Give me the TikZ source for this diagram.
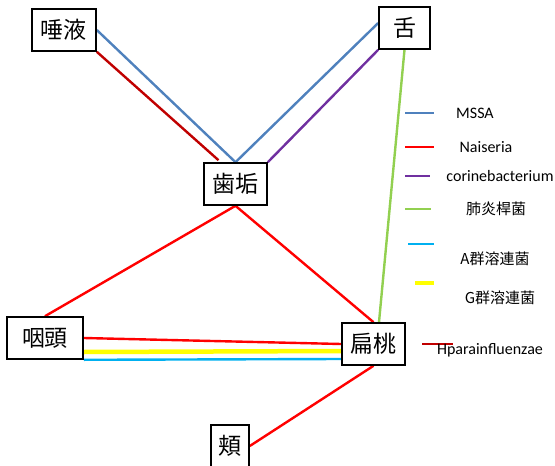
\documentclass[tikz,border=0pt]{standalone}
\usepackage{fontspec}
\setmainfont{Carlito}
\newfontfamily\jp{Noto Sans CJK JP}
\usetikzlibrary{calc}
\definecolor{cblue}{HTML}{4F81BD}
\definecolor{cdred}{HTML}{C00000}
\definecolor{cred}{HTML}{FF0000}
\definecolor{cpurple}{HTML}{7030A0}
\definecolor{cgreen}{HTML}{92D050}
\definecolor{ccyan}{HTML}{00B0F0}
\definecolor{cyellow}{HTML}{FFFF00}
\begin{document}
\begin{tikzpicture}[x=1pt,y=-1pt,
  box/.style={draw=black,line width=1.6pt,fill=white,inner sep=0pt,font=\jp\fontsize{23}{26}\selectfont,anchor=center},
  conn/.style={line width=2.4pt},
  leg/.style={line width=2.8pt},
  legtext/.style={font=\fontsize{16}{18}\selectfont,anchor=center,inner sep=0pt},
  legjp/.style={font=\jp\fontsize{15}{18}\selectfont,anchor=center,inner sep=0pt}]
\useasboundingbox (0,0) rectangle (555,466);
% connector anchor nodes (boxes)
\node[box,minimum width=64pt,minimum height=42pt] (saliva) at (64,30) {唾液};
\node[box,minimum width=51pt,minimum height=42pt] (tongue) at (404.5,28) {舌};
\node[box,minimum width=63pt,minimum height=42pt] (plaque) at (235.5,184) {歯垢};
\node[box,minimum width=76pt,minimum height=42pt] (pharynx) at (45,338) {咽頭};
\node[box,minimum width=63pt,minimum height=42pt] (tonsil) at (373.5,344) {扁桃};
\node[box,minimum width=38pt,minimum height=42pt] (cheek) at (230,446) {頬};
% connector helper coordinates
\coordinate (plaqueL) at ($(plaque.north)+(-17,-2)$);
\coordinate (tongueB) at ($(tongue.west)+(0,-5)$);
\coordinate (tonsilG) at ($(tonsil.north)+(5.5,0)$);
\coordinate (pharY) at ($(pharynx.east)+(0,14)$);
\coordinate (tonY) at ($(tonsil.west)+(0,7)$);
\coordinate (tonC) at ($(tonsil.west)+(0,15)$);
% connectors
\draw[conn,cblue] (saliva.east) -- (plaque.north);
\draw[conn,cdred] (saliva.south east) -- (plaqueL);
\draw[conn,cblue] (tongueB) -- (plaque.north);
\draw[conn,cpurple] (tongue.south west) -- (plaque.north east);
\draw[conn,cgreen] (tongue.south) -- (tonsilG);
\draw[conn,cred] (plaque.south) -- (pharynx.north);
\draw[conn,cred] (plaque.south) -- (tonsil.north);
\draw[conn,cred] (pharynx.east) -- (tonsil.west);
\draw[line width=4.5pt,cyellow] (pharY) -- (tonY);
\draw[conn,ccyan] (pharynx.south east) -- (tonC);
\draw[conn,cred] (tonsil.south) -- (cheek.east);
% redraw boxes on top of connector ends
\node[box,minimum width=64pt,minimum height=42pt] at (saliva.center) {唾液};
\node[box,minimum width=51pt,minimum height=42pt] at (tongue.center) {舌};
\node[box,minimum width=63pt,minimum height=42pt] at (plaque.center) {歯垢};
\node[box,minimum width=76pt,minimum height=42pt] at (pharynx.center) {咽頭};
\node[box,minimum width=63pt,minimum height=42pt] at (tonsil.center) {扁桃};
\node[box,minimum width=38pt,minimum height=42pt] at (cheek.center) {頬};
% legend
\coordinate (l1a) at (405,113); \coordinate (l1b) at (434,113);
\coordinate (l2a) at (405,147); \coordinate (l2b) at (434,147);
\coordinate (l3a) at (405,176); \coordinate (l3b) at (430,176);
\coordinate (l4a) at (405,209); \coordinate (l4b) at (431,209);
\coordinate (l5a) at (408,244); \coordinate (l5b) at (434,244);
\coordinate (l6a) at (415,283); \coordinate (l6b) at (434,283);
\coordinate (l7a) at (422,344); \coordinate (l7b) at (453,344);
\draw[leg,cblue] (l1a) -- (l1b);
\draw[leg,cred] (l2a) -- (l2b);
\draw[leg,cpurple] (l3a) -- (l3b);
\draw[leg,cgreen] (l4a) -- (l4b);
\draw[leg,ccyan] (l5a) -- (l5b);
\draw[line width=3.8pt,cyellow] (l6a) -- (l6b);
\draw[leg,cdred] (l7a) -- (l7b);
\node[legtext] (t1) at (475,113) {MSSA};
\node[legtext] (t2) at (486,147) {Naiseria};
\node[legtext] (t3) at (500,176) {corinebacterium};
\node[legjp] (t4) at (496,209) {肺炎桿菌};
\node[legjp] (t5) at (495,259) {A群溶連菌};
\node[legjp] (t6) at (500,298) {G群溶連菌};
\node[legtext] (t7) at (490,350) {Hparainfluenzae};
\end{tikzpicture}
\end{document}
